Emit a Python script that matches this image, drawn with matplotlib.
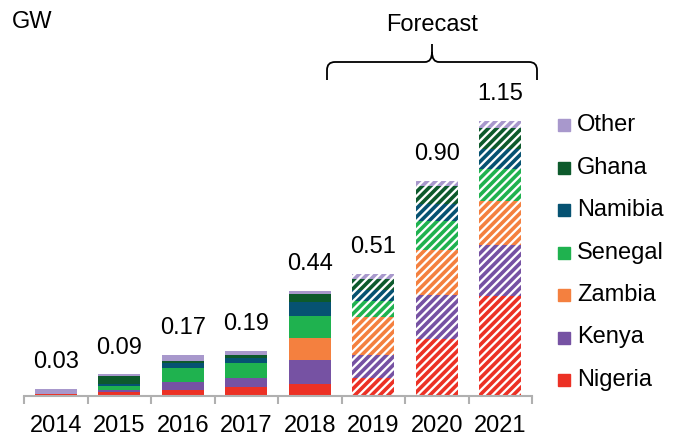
import numpy as np
import matplotlib.pyplot as plt
from matplotlib.patches import Rectangle, PathPatch
from matplotlib.path import Path

plt.rcParams['font.family'] = ['Liberation Sans', 'DejaVu Sans']
plt.rcParams['hatch.linewidth'] = 2.6

years = ['2014', '2015', '2016', '2017', '2018', '2019', '2020', '2021']
forecast = [False, False, False, False, False, True, True, True]

# GW per country, stacked bottom to top
countries = ['Nigeria', 'Kenya', 'Zambia', 'Senegal', 'Namibia', 'Ghana', 'Other']
nigeria = [0.010, 0.017, 0.027, 0.036, 0.052, 0.075, 0.240, 0.417]
kenya = [0.000, 0.008, 0.032, 0.040, 0.098, 0.095, 0.181, 0.213]
zambia = [0.000, 0.000, 0.000, 0.000, 0.091, 0.160, 0.190, 0.187]
senegal = [0.000, 0.017, 0.059, 0.061, 0.092, 0.065, 0.120, 0.130]
namibia = [0.000, 0.008, 0.020, 0.022, 0.059, 0.050, 0.071, 0.084]
ghana = [0.000, 0.032, 0.007, 0.011, 0.034, 0.043, 0.076, 0.091]
other = [0.020, 0.008, 0.025, 0.020, 0.014, 0.022, 0.022, 0.028]

colors = ['#EC3125', '#7652A3', '#F4803F', '#1FB24F', '#065272', '#0D5A2C', '#A898CC']
series = [nigeria, kenya, zambia, senegal, namibia, ghana, other]

FS = 17

fig = plt.figure(figsize=(6.78, 4.38), dpi=100)
ax = fig.add_axes([24 / 678, 42 / 438, 508 / 678, 335 / 438])

x = np.arange(len(years))
bottom = np.zeros(len(years))
for vals, col in zip(series, colors):
    vals = np.array(vals)
    for i in range(len(years)):
        if vals[i] <= 0:
            continue
        if forecast[i]:
            ax.bar(x[i], vals[i], 0.66, bottom=bottom[i], facecolor='white',
                   edgecolor=col, hatch='////', linewidth=0)
        else:
            ax.bar(x[i], vals[i], 0.66, bottom=bottom[i], color=col, linewidth=0)
    bottom += vals

for i, tot in enumerate(bottom):
    ax.annotate(f'{tot:.2f}', (x[i], tot), xytext=(0, 15), textcoords='offset points',
                ha='center', va='baseline', fontsize=FS)

ax.set_xlim(-0.5, len(years) - 0.5)
ax.set_ylim(0, 1.4)
for s in ['top', 'right', 'left']:
    ax.spines[s].set_visible(False)
ax.spines['bottom'].set_color('#b0b0b0')
ax.spines['bottom'].set_linewidth(1.5)
ax.set_yticks([])
ax.set_xticks(x)
ax.set_xticklabels(years, fontsize=FS)
ax.tick_params(axis='x', which='major', length=0, pad=14)
ax.set_xticks(np.arange(-0.5, len(years)), minor=True)
ax.tick_params(axis='x', which='minor', length=6, width=1.5, color='#b0b0b0')

# legend, top entry first
for k, (name, col) in enumerate(zip(countries[::-1], colors[::-1])):
    yc = 125 + k * 42.5
    fig.patches.append(Rectangle((558 / 678, 1 - (yc + 6) / 438), 12 / 678, 12 / 438,
                                 transform=fig.transFigure, color=col, figure=fig))
    fig.text(577 / 678, 1 - yc / 438, name, fontsize=FS, va='center', ha='left')

fig.text(12 / 678, 1 - 22 / 438, 'GW', fontsize=FS, va='center', ha='left')
fig.text(432 / 678, 1 - 25 / 438, 'Forecast', fontsize=FS, va='center', ha='center')

# curly brace over the forecast years (pixel coords, y from top)
pts = [(327, 80), (327, 70), (327, 62), (335, 62), (425, 62), (432, 62), (432, 52),
       (432, 44), (432, 52), (432, 62), (439, 62), (529, 62), (537, 62), (537, 70), (537, 80)]
codes = [Path.MOVETO, Path.LINETO, Path.CURVE3, Path.CURVE3, Path.LINETO, Path.CURVE3,
         Path.CURVE3, Path.LINETO, Path.MOVETO, Path.CURVE3, Path.CURVE3, Path.LINETO,
         Path.CURVE3, Path.CURVE3, Path.LINETO]
pts = [(px / 678, 1 - py / 438) for px, py in pts]
brace = PathPatch(Path(pts, codes), transform=fig.transFigure, fill=False,
                  edgecolor='black', linewidth=1.3)
fig.patches.append(brace)

fig.savefig('out.png', dpi=100)
